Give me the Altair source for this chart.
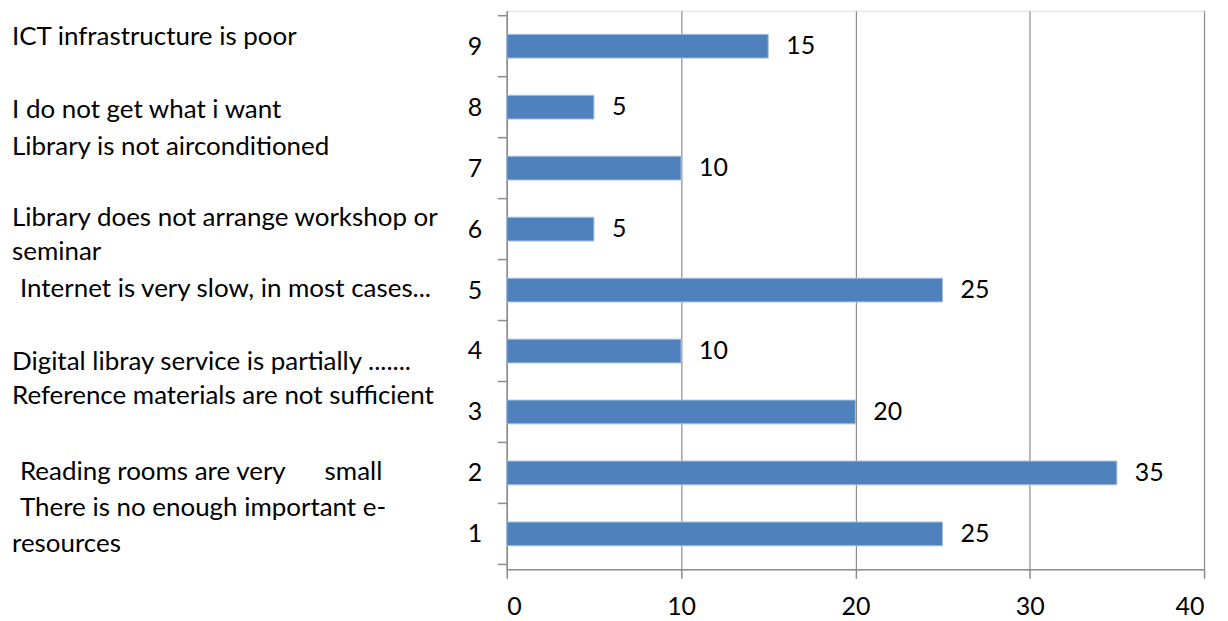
import altair as alt
import pandas as pd

# Bars
categories = [1, 2, 3, 4, 5, 6, 7, 8, 9]
values = [25, 35, 20, 10, 25, 5, 10, 5, 15]

# Left-side free text annotations (y in category units)
note_texts = [
    "ICT infrastructure is poor",
    "I do not get what i want",
    "Library is not airconditioned",
    "Library does not arrange workshop or",
    "seminar",
    "Digital libray service is partially .......",
    "Reference materials are not sufficient",
    "resources",
]
note_y = [9.10, 7.90, 7.30, 6.13, 5.57, 3.77, 3.21, 0.79]

# Lines that start with a leading space in the original
indented_texts = [
    "Internet is very slow, in most cases...",
    "Reading rooms are very\u2002\u2002\u2002small",
    "There is no enough important e-",
]
indented_y = [4.96, 1.96, 1.37]

boundaries = [0.5, 1.5, 2.5, 3.5, 4.5, 5.5, 6.5, 7.5, 8.5, 9.5]
x_ticks = [0, 10, 20, 30, 40]

FONT = "Lato"
GRAY = "#8c8c8c"

bars_df = pd.DataFrame({"cat": categories, "val": values})
bars_df["lo"] = bars_df["cat"] - 0.195
bars_df["hi"] = bars_df["cat"] + 0.195
bars_df["zero"] = 0
notes_df = pd.DataFrame({"txt": note_texts, "y": note_y})
ind_df = pd.DataFrame({"txt": indented_texts, "y": indented_y})
bnd_df = pd.DataFrame({"b": boundaries})

x_scale = alt.Scale(domain=[0, 40], nice=False, zero=True)
y_scale = alt.Scale(domain=[0.5, 9.5], nice=False, zero=False)

bars = alt.Chart(bars_df).mark_bar(
    color="#4f81bd", orient="horizontal", stroke="#a7c0e0", strokeWidth=1
).encode(
    x=alt.X("zero:Q", scale=x_scale, axis=alt.Axis(
        values=x_ticks, title=None, grid=True, gridColor=GRAY, gridWidth=1.2,
        domainColor=GRAY, domainWidth=1.5, tickColor=GRAY, tickWidth=1.5, tickSize=9,
        labelFont=FONT, labelFontSize=25, labelColor="black", labelPadding=16,
    )),
    x2="val:Q",
    y=alt.Y("lo:Q", scale=y_scale, axis=alt.Axis(
        values=categories, title=None, grid=False, labelOverlap=False,
        domainColor=GRAY, domainWidth=1.5, ticks=False, format="d",
        labelFont=FONT, labelFontSize=25, labelColor="black", labelPadding=25,
    )),
    y2="hi:Q",
)

ticks = alt.Chart(bnd_df).mark_rule(color=GRAY, strokeWidth=1.5).encode(
    y=alt.Y("b:Q", scale=y_scale),
    x=alt.value(-9),
    x2=alt.value(0),
)

bar_labels = alt.Chart(bars_df).mark_text(
    align="left", baseline="middle", dx=18, font=FONT, fontSize=25, color="black"
).encode(
    x=alt.X("val:Q", scale=x_scale),
    y=alt.Y("cat:Q", scale=y_scale),
    text=alt.Text("val:Q"),
)

notes = alt.Chart(notes_df).mark_text(
    align="left", baseline="middle", dy=-3, font=FONT, fontSize=26, color="black"
).encode(
    x=alt.value(-496),
    y=alt.Y("y:Q", scale=y_scale),
    text="txt:N",
)

notes_ind = alt.Chart(ind_df).mark_text(
    align="left", baseline="middle", dx=8, dy=-3, font=FONT, fontSize=26, color="black"
).encode(
    x=alt.value(-496),
    y=alt.Y("y:Q", scale=y_scale),
    text="txt:N",
)

chart = alt.layer(bars, ticks, bar_labels, notes, notes_ind).properties(
    width=699, height=560,
    padding={"left": 500, "top": 2, "right": 16, "bottom": 50},
    autosize="none",
).configure_view(stroke=None).configure(background="white")

chart.save("out.html", embed_options={"renderer": "svg", "actions": False})
